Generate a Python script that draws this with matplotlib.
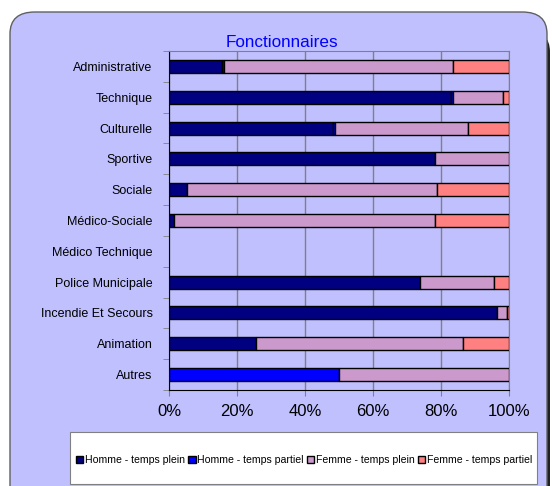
import matplotlib.pyplot as plt
from matplotlib.patches import FancyBboxPatch, Rectangle, Patch

# Données (en %)
categories = ["Administrative", "Technique", "Culturelle", "Sportive", "Sociale",
              "Médico-Sociale", "Médico Technique", "Police Municipale",
              "Incendie Et Secours", "Animation", "Autres"]
homme_plein = [15.5, 82.9, 48.3, 78.3, 5.1, 1.4, 0, 73.9, 96.5, 25.5, 0]
homme_partiel = [0.5, 0.6, 0.5, 0, 0, 0, 0, 0, 0, 0, 50.0]
femme_plein = [67.7, 14.7, 39.2, 21.7, 73.8, 76.9, 0, 21.8, 2.9, 61.1, 50.0]
femme_partiel = [16.3, 1.8, 12.0, 0, 21.1, 21.7, 0, 4.3, 0.6, 13.4, 0]

series = [homme_plein, homme_partiel, femme_plein, femme_partiel]
noms = ["Homme - temps plein", "Homme - temps partiel",
        "Femme - temps plein", "Femme - temps partiel"]
couleurs = ["#000080", "#0000ff", "#cc99cc", "#ff8080"]
fond = "#c0c0ff"

fig = plt.figure(figsize=(5.52, 4.86), dpi=100)
plt.rcParams['font.family'] = ['Liberation Sans', 'DejaVu Sans']

# Cadre arrondi du graphique (avec une petite ombre à droite)
W, H = 552, 486
ombre = FancyBboxPatch((12 / W, -0.05), 538 / W, (H - 30) / H + 0.05,
                       boxstyle="round,pad=0,rounding_size=0.045",
                       transform=fig.transFigure, facecolor="#202020",
                       edgecolor="none", zorder=-3)
fig.patches.append(ombre)
cadre = FancyBboxPatch((10 / W, -0.05), 537 / W, (H - 12) / H + 0.05,
                       boxstyle="round,pad=0,rounding_size=0.045",
                       transform=fig.transFigure, facecolor=fond,
                       edgecolor="#606060", linewidth=1.0, zorder=-2)
fig.patches.append(cadre)

ax = fig.add_axes([169.3 / W, 1 - 390 / H, 339.4 / W, 339 / H])
ax.set_facecolor(fond)

gauche = [0] * len(categories)
for vals, nom, c in zip(series, noms, couleurs):
    # on ne dessine pas les segments vides
    idx = [i for i, v in enumerate(vals) if v > 0]
    ax.barh(idx, [vals[i] for i in idx], left=[gauche[i] for i in idx],
            height=0.42, color=c, edgecolor="black", linewidth=1.0,
            label=nom, zorder=3)
    gauche = [g + v for g, v in zip(gauche, vals)]

y = list(range(len(categories)))
ax.set_xlim(0, 100)
ax.set_ylim(len(categories) - 0.5, -0.5)
ax.set_xticks([0, 20, 40, 60, 80, 100])
ax.set_xticklabels(["0%", "20%", "40%", "60%", "80%", "100%"], fontsize=12)
ax.set_yticks(y)
ax.set_yticklabels(categories, fontsize=9)
ax.set_yticks([i + 0.5 for i in range(-1, len(categories))], minor=True)
ax.tick_params(axis='y', which='major', length=0, pad=12)
ax.tick_params(axis='y', which='minor', length=4, color="#808080")
ax.tick_params(axis='x', length=4, color="#808080", pad=6)
ax.grid(axis='x', color="#808080", linewidth=1.0, zorder=1)
for s in ["top", "right"]:
    ax.spines[s].set_color("#808080")
ax.spines["left"].set_color("black")
ax.spines["bottom"].set_color("black")

fig.text(282 / W, 1 - 47 / H, "Fonctionnaires", color="#0000ff",
         fontsize=12.3, ha='center', va='baseline')

# Boîte blanche de la légende
fig.patches.append(Rectangle((70 / W, 1 - 484 / H), 467 / W, 52 / H,
                             transform=fig.transFigure, facecolor="white",
                             edgecolor="#808080", linewidth=0.8, zorder=-1))
poignees = [Patch(facecolor=c, edgecolor="black", linewidth=1.0) for c in couleurs]
fig.legend(poignees, noms, loc='center', bbox_to_anchor=(304 / W, 1 - 460 / H),
           ncol=4, frameon=False, fontsize=7.6, handlelength=0.7,
           handleheight=0.7, handletextpad=0.15, columnspacing=0.3,
           borderpad=0)

fig.savefig("out.png", dpi=100, facecolor="white")
